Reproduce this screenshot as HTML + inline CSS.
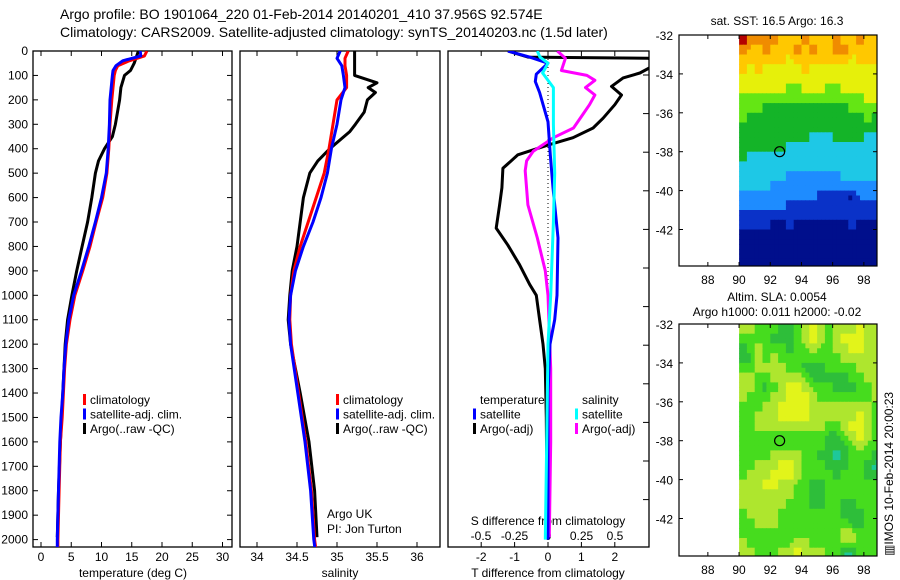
<!DOCTYPE html>
<html><head><meta charset="utf-8"><style>
body{margin:0;background:#fff}
svg{display:block;font-family:"Liberation Sans",sans-serif}
</style></head><body>
<svg id="c" width="900" height="580" viewBox="0 0 900 580"></svg>
<script>
// ---------- data ----------
const tDepth=[0,20,40,60,80,100,200,300,400,500,600,700,800,900,1000,1100,1200,1300,1400,1500,1600,1800,2000,2050];
const tClim=[17.5,17.1,14.6,12.7,12.3,12.1,11.7,11.4,11.2,10.9,10.2,9.1,8.1,6.9,5.6,4.8,4.2,3.9,3.7,3.5,3.2,3.0,2.8,2.8];
const tSat=[16.4,16.5,13.5,12.4,11.9,11.8,11.4,11.3,11.1,10.8,10.0,9.0,7.9,6.7,5.4,4.6,4.1,3.8,3.6,3.3,3.1,2.9,2.7,2.7];
const tArgoDepth=[0,50,80,100,150,200,300,350,400,450,500,600,700,800,900,1000,1100,1200,1400,1600,1800,1990];
const tArgo=[16.1,15.4,14.8,13.8,13.2,13.0,12.3,11.8,10.5,9.5,9.0,8.4,7.7,6.8,5.9,5.1,4.4,4.0,3.6,3.2,2.9,2.7];
const sDepth=[0,30,60,100,150,200,300,400,500,600,700,800,900,1000,1100,1200,1400,1600,1800,2000,2050];
const sClim=[35.14,35.1,35.1,35.12,35.12,35.0,34.95,34.9,34.84,34.74,34.64,34.54,34.46,34.42,34.41,34.43,34.52,34.61,34.68,34.72,34.74];
const sSat=[35.04,35.0,35.06,35.08,35.1,35.05,35.0,34.93,34.88,34.8,34.7,34.58,34.48,34.42,34.4,34.42,34.51,34.6,34.67,34.71,34.73];
const sArgoDepth=[0,100,130,150,170,200,250,300,330,400,450,500,600,700,800,900,1000,1100,1200,1400,1600,1800,1990];
const sArgo=[35.22,35.22,35.5,35.39,35.48,35.38,35.34,35.23,35.16,34.91,34.76,34.66,34.58,34.54,34.5,34.44,34.41,34.39,34.42,34.54,34.65,34.72,34.75];
const dTArgoDepth=[0,25,30,50,90,110,145,180,220,275,315,355,385,425,480,560,630,725,795,875,955,1000,1100,1200,1300,1500,1990];
const dTArgo=[-1.2,-0.6,3.0,3.3,2.75,2.25,1.9,2.2,2.0,1.65,1.35,0.75,0.0,-0.9,-1.35,-1.38,-1.45,-1.55,-1.2,-0.85,-0.55,-0.35,-0.25,-0.15,-0.08,-0.05,-0.02];
const dTSatDepth=[0,25,50,95,125,170,290,425,560,765,1000,1100,1200,1400,2000];
const dTSat=[-1.2,-0.55,0.0,-0.35,-0.38,-0.25,0.0,0.07,0.15,0.3,0.27,0.2,0.06,0.0,0.0];
const dSSatDepth=[0,25,50,90,150,300,500,700,1000,1200,1600,2000];
const dSSat=[-0.08,-0.06,0.0,-0.04,0.04,0.04,0.05,0.04,0.02,0.0,-0.01,-0.02];
const dSArgoDepth=[0,30,80,100,120,150,180,220,260,315,355,410,450,490,630,765,900,1000,1300,1600,1990];
const dSArgo=[0.07,0.13,0.1,0.29,0.35,0.28,0.35,0.31,0.26,0.19,0.04,-0.11,-0.16,-0.17,-0.15,-0.08,-0.02,0.0,0.02,0.02,0.01];
const depthTicks=[0,100,200,300,400,500,600,700,800,900,1000,1100,1200,1300,1400,1500,1600,1700,1800,1900,2000];
const tTicks=[0,5,10,15,20,25,30];
const sTicks=[34,34.5,35,35.5,36];
const dTTicks=[-2,-1,0,1,2];
const dSTicks=[-0.5,-0.25,0,0.25,0.5];
const dSTickLabels=["-0.5","-0.25","0","0.25","0.5"];
const latTicks=[-32,-34,-36,-38,-40,-42];
const lonTicks=[88,90,92,94,96,98];
const argoLon=92.6, argoLat=-38;
const sstGrid=[
[9,8,8,8,8,7,7,7,8,7,7,7,8,7,7,8,7,7],
[8,7,7,8,7,7,7,8,7,8,7,7,8,8,7,7,7,7],
[7,7,7,7,7,7,6,7,7,7,7,7,7,7,6,7,7,7],
[7,6,7,6,6,6,6,6,7,6,6,6,6,6,6,6,6,6],
[6,6,6,6,6,6,6,6,6,6,6,6,6,6,6,6,6,6],
[6,6,6,6,6,6,5,5,6,6,6,5,5,6,6,6,6,6],
[5,5,5,5,5,5,5,5,5,5,5,5,5,5,5,5,6,6],
[5,5,5,4,4,4,4,4,4,4,4,4,4,4,5,5,5,5],
[5,4,4,4,4,4,4,4,4,4,4,4,4,4,4,4,5,4],
[4,4,4,4,4,4,4,4,4,4,4,4,4,4,4,4,4,4],
[4,4,4,4,4,4,4,4,4,3,3,3,4,4,4,4,3,3],
[4,4,4,4,4,4,3,3,3,3,3,3,3,3,3,3,3,3],
[4,3,3,3,3,3,3,3,3,3,3,3,3,3,3,3,3,3],
[3,3,3,3,3,3,3,3,3,3,3,3,3,3,3,3,3,3],
[3,3,3,3,3,3,2,2,2,2,2,2,2,3,3,3,3,3],
[3,3,3,3,2,2,2,2,2,2,2,2,2,2,2,2,2,2],
[2,2,2,2,2,2,2,2,2,2,1,1,1,1,0,2,2,2],
[2,2,2,2,2,2,1,1,1,1,1,1,1,1,1,1,1,1],
[1,1,1,1,1,1,1,1,1,1,1,1,1,1,1,1,1,1],
[1,1,1,1,0,0,1,0,0,0,0,0,0,0,1,0,0,0],
[0,0,0,0,0,0,0,0,0,0,0,0,0,0,0,0,0,0],
[0,0,0,0,0,0,0,0,0,0,0,0,0,0,0,0,0,0],
[0,0,0,0,0,0,0,0,0,0,0,0,0,0,0,0,0,0],
[0,0,0,0,0,0,0,0,0,0,0,0,0,0,0,0,0,0]];
const slaGrid=[
[3,3,2,2,2,1,1,2,3,4,3,2,3,3,3,4,3,3],
[2,2,2,2,1,1,1,2,3,4,3,2,3,4,4,4,3,3],
[1,2,3,2,2,2,1,2,2,3,2,2,3,3,4,4,3,3],
[1,1,3,2,3,2,2,2,2,2,2,2,2,3,3,3,3,3],
[2,2,3,3,3,3,2,2,1,1,1,2,2,2,2,3,3,3],
[3,3,2,2,3,3,3,3,2,1,1,1,1,1,2,2,3,3],
[3,3,2,1,2,3,4,4,3,2,2,2,1,1,1,2,2,3],
[3,2,2,2,3,3,4,4,4,3,2,2,2,2,2,2,2,3],
[2,2,2,3,3,4,4,4,4,3,3,3,3,3,3,3,3,2],
[2,2,3,3,3,4,4,4,4,3,3,3,3,3,3,4,3,2],
[2,2,3,3,3,3,3,3,3,3,3,2,2,3,4,4,3,2],
[2,2,2,2,2,2,2,2,2,2,2,1,1,2,3,4,3,2],
[2,2,2,2,2,2,2,2,2,2,2,1,1,1,2,3,2,2],
[2,2,2,2,3,3,3,3,2,2,1,1,0,1,2,2,2,1],
[2,2,3,3,3,4,4,3,2,2,2,1,1,1,2,2,1,0],
[2,3,3,3,4,4,4,3,2,2,2,2,1,2,2,2,1,1],
[3,3,3,4,4,3,3,2,2,1,1,2,2,2,2,2,2,2],
[3,3,3,3,3,3,3,2,2,1,1,2,2,2,2,2,2,2],
[3,3,3,3,3,3,2,2,2,1,1,2,2,1,1,2,2,2],
[2,3,3,3,3,2,2,2,2,2,2,2,2,1,1,1,2,2],
[2,2,3,3,3,2,2,2,2,2,2,2,2,2,1,1,2,2],
[2,2,2,2,2,2,2,2,2,2,2,2,2,3,3,2,2,2],
[3,2,2,2,2,2,2,3,3,2,2,2,2,3,3,2,2,2],
[3,3,2,2,2,3,3,4,3,3,3,2,2,0,0,2,2,2]];
const sstColors=["#000f8c","#0a32c8","#1e8cff","#1ec8e6","#14b428","#64e614","#e6f00a","#ffc800","#f08c00","#b40000"];
const slaColors=["#1ec89a","#2ebe3a","#46dc1e","#aee62e","#e2f41a"];

// ---------- helpers ----------
const svg=document.getElementById('c');
const NS='http://www.w3.org/2000/svg';
function mk(tag,attrs,parent){const e=document.createElementNS(NS,tag);for(const k in attrs)e.setAttribute(k,attrs[k]);(parent||svg).appendChild(e);return e;}
function txt(x,y,s,anchor,size,parent){const t=mk('text',{x:x,y:y,'font-size':size||12,'text-anchor':anchor||'start',fill:'#000'},parent);t.textContent=s;return t;}
const yD=d=>51+d*0.2443;
const xT=v=>41+v*6.05;
const xS=v=>257+(v-34)*80;
const xDT=v=>548+v*33.4;
const xDS=v=>548+v*134;
function line(depths,vals,xf,color,w,name,clip){
  const p=depths.map((d,i)=>xf(vals[i]).toFixed(1)+','+yD(d).toFixed(1)).join(' ');
  const e=mk('polyline',{points:p,fill:'none',stroke:color,'stroke-width':w||3,'stroke-linejoin':'round','clip-path':clip?'url(#'+clip+')':''});
  
  
  return e;
}
const defs=mk('defs',{});
function clipRect(id,x,y,w,h){const cp=mk('clipPath',{id:id},defs);mk('rect',{x:x,y:y,width:w,height:h},cp);}

// title
const title=mk('g',{});


txt(60,19,'Argo profile: BO 1901064_220 01-Feb-2014 20140201_410 37.956S 92.574E','start',14,title);
txt(60,37,'Climatology: CARS2009. Satellite-adjusted climatology: synTS_20140203.nc (1.5d later)','start',14,title);

const TOP=51,BOT=547;
function panel(x0,x1,name){
  const r=mk('rect',{x:x0,y:TOP,width:x1-x0,height:BOT-TOP,fill:'#fff',stroke:'#000','stroke-width':1.3});
  
  
}
panel(33,232,'temperature-panel');panel(240,440,'salinity-panel');panel(448,649,'difference-panel');
clipRect('cp1',33,TOP,199,BOT-TOP);clipRect('cp2',240,TOP,200,BOT-TOP);clipRect('cp3',448,TOP,201,BOT-TOP);

// depth axis
depthTicks.forEach(d=>{
  const y=yD(d);
  mk('line',{x1:33,x2:38,y1:y,y2:y,stroke:'#000'});
  mk('line',{x1:227,x2:232,y1:y,y2:y,stroke:'#000'});
  const t=txt(28,y+4,String(d),'end',12);
  
  
});
for(let i=0;i<12;i++){const y=75+i*38.6;if(y<BOT-3)mk('line',{x1:643,x2:649,y1:y,y2:y,stroke:'#000'});}

// x ticks
tTicks.forEach(v=>{const x=xT(v);mk('line',{x1:x,x2:x,y1:TOP,y2:TOP+5,stroke:'#000'});mk('line',{x1:x,x2:x,y1:BOT,y2:BOT-5,stroke:'#000'});
  const t=txt(x,561,String(v),'middle',12);});
sTicks.forEach(v=>{const x=xS(v);mk('line',{x1:x,x2:x,y1:TOP,y2:TOP+5,stroke:'#000'});mk('line',{x1:x,x2:x,y1:BOT,y2:BOT-5,stroke:'#000'});
  const t=txt(x,561,String(v),'middle',12);});
dTTicks.forEach(v=>{const x=xDT(v);mk('line',{x1:x,x2:x,y1:TOP,y2:TOP+5,stroke:'#000'});mk('line',{x1:x,x2:x,y1:BOT,y2:BOT-5,stroke:'#000'});
  const t=txt(x,561,String(v),'middle',12);});
dSTicks.forEach((v,i)=>{const t=txt(xDS(v),540,dSTickLabels[i],'middle',12);});

let a;
a=txt(133,577,'temperature (deg C)','middle',12);
a=txt(340,577,'salinity','middle',12);
a=txt(548,577,'T difference from climatology','middle',12);
a=txt(548,525,'S difference from climatology','middle',12);
a=txt(327,518,'Argo UK','start',12);
a=txt(327,533,'PI: Jon Turton','start',12);

a=mk('line',{x1:xDT(0),x2:xDT(0),y1:TOP,y2:BOT,stroke:'#000','stroke-dasharray':'1,3'});


// series
line(tArgoDepth,tArgo,xT,'#000',3,'temperature-argo-line','cp1');
line(tDepth,tClim,xT,'#f00',3,'temperature-climatology-line','cp1');
line(tDepth,tSat,xT,'#00f',3,'temperature-satellite-line','cp1');
line(sArgoDepth,sArgo,xS,'#000',3,'salinity-argo-line','cp2');
line(sDepth,sClim,xS,'#f00',3,'salinity-climatology-line','cp2');
line(sDepth,sSat,xS,'#00f',3,'salinity-satellite-line','cp2');
line(dTArgoDepth,dTArgo,xDT,'#000',3,'t-diff-argo-line','cp3');
line(dSArgoDepth,dSArgo,xDS,'#f0f',3,'s-diff-argo-line','cp3');
line(dTSatDepth,dTSat,xDT,'#00f',3,'t-diff-satellite-line','cp3');
line(dSSatDepth,dSSat,xDS,'#0ff',3,'s-diff-satellite-line','cp3');

// legends
function legend(x,y,items,name){
  const g=mk('g',{});
  items.forEach((it,i)=>{const yy=y+i*14.5;
    if(it[0])mk('rect',{x:x,y:yy-10,width:3,height:11,fill:it[0]},g);
    txt(x+7,yy,it[1],'start',12,g);});
}
legend(83,404,[['#f00','climatology'],['#00f','satellite-adj. clim.'],['#000','Argo(..raw -QC)']],'temperature-legend');
legend(336,404,[['#f00','climatology'],['#00f','satellite-adj. clim.'],['#000','Argo(..raw -QC)']],'salinity-legend');
legend(473,404,[[null,'temperature'],['#00f','satellite'],['#000','Argo(-adj)']],'difference-legend-temperature');
legend(575,404,[[null,'salinity'],['#0ff','satellite'],['#f0f','Argo(-adj)']],'difference-legend-salinity');

// maps (grid values bilinearly refined to quarter-degree cells)
function sample(grid,r,c){
  const R=grid.length-1,C=grid[0].length-1;
  const r0=Math.min(Math.floor(r),R),c0=Math.min(Math.floor(c),C);
  const r1=Math.min(r0+1,R),c1=Math.min(c0+1,C),fr=r-r0,fc=c-c0;
  return grid[r0][c0]*(1-fr)*(1-fc)+grid[r0][c1]*(1-fr)*fc+grid[r1][c0]*fr*(1-fc)+grid[r1][c1]*fr*fc;
}
function map(top,bottom,grid,colors,name){
  const L=679,R=877,lon0=86.15,px=15.6;
  const yL=lat=>top+(-32-lat)*19.45;
  const xL=lon=>L+(lon-lon0)*px;
  const id='cm'+top;clipRect(id,L,top,R-L,bottom-top);
  const g=mk('g',{'clip-path':'url(#'+id+')'});
  
  const rows=grid.length*2,cols=grid[0].length*2;
  for(let r=0;r<rows;r++)for(let c=0;c<cols;c++){
    const v=Math.round(sample(grid,Math.max(0,(r-0.5)/2),Math.max(0,(c-0.5)/2)));
    const x=xL(90+c*0.25),y=yL(-32-r*0.25);
    const cell=mk('rect',{x:x.toFixed(1),y:y.toFixed(1),width:(0.25*px+0.6).toFixed(1),height:(0.25*19.45+0.6).toFixed(1),fill:colors[v]},g);
    
    
  }
  const fr=mk('rect',{x:L,y:top,width:R-L,height:bottom-top,fill:'none',stroke:'#000','stroke-width':1.2});
  
  latTicks.forEach(l=>{const y=yL(l);mk('line',{x1:L,x2:L+4,y1:y,y2:y,stroke:'#000'});mk('line',{x1:R-4,x2:R,y1:y,y2:y,stroke:'#000'});
    const t=txt(L-6,y+5,String(l),'end',12);});
  lonTicks.forEach(l=>{const x=xL(l);mk('line',{x1:x,x2:x,y1:top,y2:top+4,stroke:'#000'});mk('line',{x1:x,x2:x,y1:bottom-4,y2:bottom,stroke:'#000'});
    const t=txt(x,bottom+18,String(l),'middle',12);});
  const c=mk('circle',{cx:xL(argoLon),cy:yL(argoLat),r:5,fill:'none',stroke:'#000','stroke-width':1.2});
  
}
map(35,266,sstGrid,sstColors,'sst-map');
map(324,556,slaGrid,slaColors,'sla-map');
a=txt(777,25,'sat. SST: 16.5  Argo: 16.3','middle',12);
a=txt(777,301,'Altim. SLA: 0.0054','middle',12);
a=txt(777,316,'Argo h1000: 0.011 h2000: -0.02','middle',12);
a=txt(0,0,'\u25A5IMOS 10-Feb-2014 20:00:23','start',12);a.setAttribute('transform','translate(893,556) rotate(-90)');

</script>
</body></html>
